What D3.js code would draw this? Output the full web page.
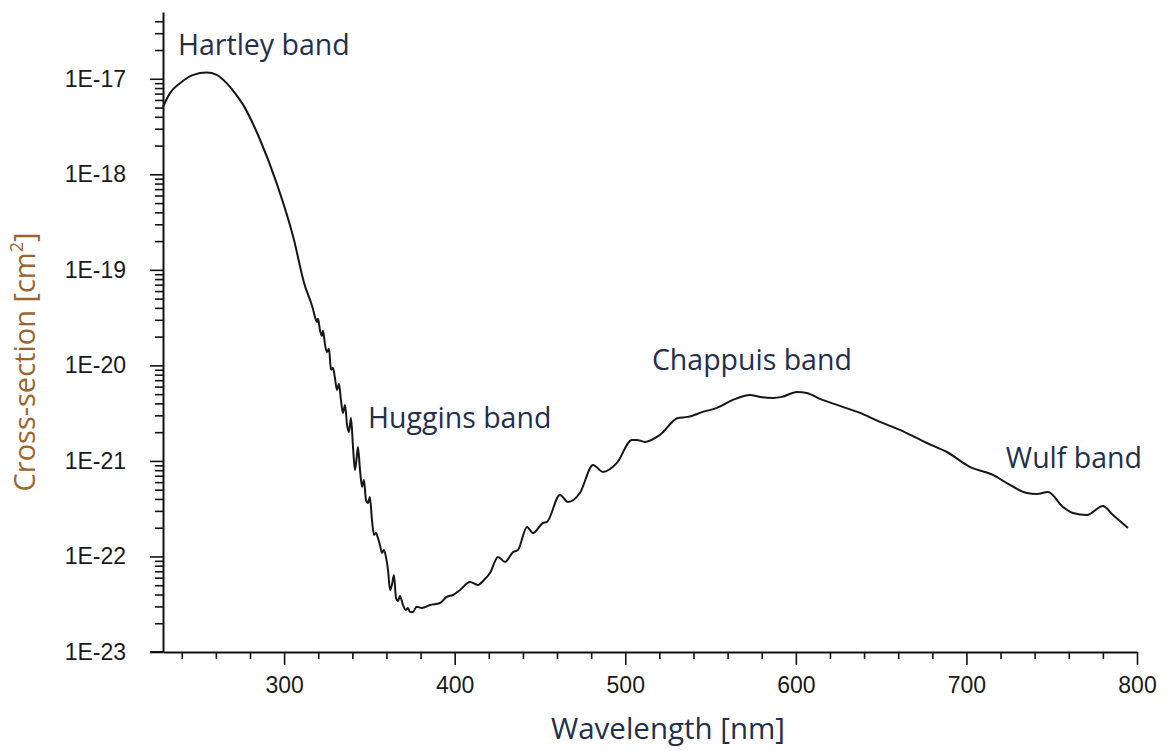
<!DOCTYPE html>
<html>
<head>
<meta charset="utf-8">
<script src="https://cdn.jsdelivr.net/npm/d3@7"></script>
<style>
  html, body { margin: 0; padding: 0; background: #fff; }
  svg { display: block; }
</style>
</head>
<body>
<svg id="chart" width="1169" height="751"></svg>
<script>
// Ozone absorption cross-section spectrum, wavelength in nm, cross-section in cm^2
const wavelength = [
  229.0, 233.1, 239.0, 246.8, 254.6, 260.5, 266.3, 271.2, 276.1, 285.9, 295.6, 305.4,
  312.2, 315.2, 316.9, 318.1, 319.3, 319.9, 321.0, 322.2, 322.8, 324.0, 325.1, 326.3,
  327.5, 328.6, 329.8, 331.0, 332.2, 333.3, 334.5, 335.7, 336.9, 338.0, 339.2, 340.4,
  341.5, 342.4, 343.3, 344.5, 345.7, 346.8, 348.0, 349.2, 350.3, 351.5, 352.7, 353.9,
  355.0, 356.2, 357.4, 358.5, 359.7, 360.9, 362.1, 363.2, 364.4, 365.6, 366.8, 367.9,
  369.7, 371.4, 372.6, 373.8, 375.5,
  377.7, 380.8, 385.5, 391.4, 395.3, 399.0, 403.1, 409.0, 413.6, 417.2, 420.7, 425.4,
  429.5, 434.2, 437.1, 442.4, 445.9, 451.7, 454.1, 461.7, 466.4, 473.4, 481.1, 486.9,
  495.1, 503.9, 506.8, 511.5, 520.3, 530.9, 536.7, 545.5, 553.7, 563.1, 573.1, 579.0,
  586.6, 591.8, 600.6, 606.5, 614.1, 625.8, 637.6, 649.3, 661.0, 676.8, 688.6, 702.0,
  715.5, 723.7, 735.5, 741.3, 747.8, 756.6, 762.4, 770.6, 780.0, 785.9, 794.7
];
const crossSection = [
  5.09e-18, 7.08e-18, 9.0e-18, 1.10e-17, 1.165e-17, 1.10e-17, 9.0e-18, 7.08e-18, 5.3e-18, 2.3e-18, 8.1e-19, 2.2e-19,
  6.80e-20, 4.85e-20, 3.91e-20, 3.22e-20, 2.85e-20, 3.07e-20, 2.35e-20, 2.04e-20, 2.30e-20, 1.64e-20, 1.38e-20, 1.49e-20,
  8.98e-21, 9.42e-21, 7.40e-21, 5.54e-21, 6.40e-21, 4.35e-21, 3.18e-21, 3.86e-21, 2.38e-21, 2.01e-21, 2.82e-21, 1.40e-21,
  8.05e-22, 1.02e-21, 1.40e-21, 8.05e-22, 5.35e-22, 6.32e-22, 3.91e-22, 3.63e-22, 4.20e-22, 2.41e-22, 1.68e-22, 1.76e-22,
  1.56e-22, 1.32e-22, 1.09e-22, 1.17e-22, 9.89e-23, 7.23e-23, 4.46e-23, 5.03e-23, 6.40e-23, 3.68e-23, 3.42e-23, 3.86e-23,
  3.10e-23, 2.75e-23, 2.89e-23, 2.62e-23, 2.62e-23,
  2.98e-23, 2.89e-23, 3.10e-23, 3.26e-23, 3.77e-23, 3.95e-23, 4.46e-23, 5.41e-23, 5.03e-23, 5.68e-23, 6.72e-23, 9.89e-23,
  8.76e-23, 1.11e-22, 1.17e-22, 2.04e-22, 1.76e-22, 2.24e-22, 2.30e-22, 4.41e-22, 3.72e-22, 4.62e-22, 9.08e-22, 7.67e-22,
  9.53e-22, 1.66e-21, 1.66e-21, 1.58e-21, 1.87e-21, 2.82e-21, 2.89e-21, 3.26e-21, 3.59e-21, 4.35e-21, 4.91e-21, 4.68e-21,
  4.57e-21, 4.68e-21, 5.28e-21, 5.15e-21, 4.46e-21, 3.77e-21, 3.18e-21, 2.56e-21, 2.11e-21, 1.54e-21, 1.24e-21, 8.65e-22,
  7.13e-22, 5.87e-22, 4.62e-22, 4.51e-22, 4.73e-22, 3.30e-22, 2.85e-22, 2.72e-22, 3.37e-22, 2.72e-22, 1.99e-22
];

// Axis ticks
const xTickValues = [300, 400, 500, 600, 700, 800];
const xTickLabels = ["300", "400", "500", "600", "700", "800"];
const xMinorTicks = [240, 260, 280, 320, 340, 360, 380, 420, 440, 460, 480, 520, 540, 560, 580,
                     620, 640, 660, 680, 720, 740, 760, 780];
const yTickValues = [1e-23, 1e-22, 1e-21, 1e-20, 1e-19, 1e-18, 1e-17];
const yTickLabels = ["1E-23", "1E-22", "1E-21", "1E-20", "1E-19", "1E-18", "1E-17"];

// Band annotations: name, wavelength and cross-section at the label baseline start
const bandNames = ["Hartley band", "Huggins band", "Chappuis band", "Wulf band"];
const bandWavelengths = [237.8, 349.2, 515.6, 723.1];
const bandValues = [1.78e-17, 2.22e-21, 8.98e-21, 8.45e-22];

const xDomain = [229, 800];
const yDomain = [1e-23, 5e-17];

const svg = d3.select("#chart");
const margin = { left: 163, right: 32, top: 12, bottom: 99 };
const W = 1169, H = 751;

const x = d3.scaleLinear().domain(xDomain).range([margin.left, W - margin.right]);
const y = d3.scaleLog().domain(yDomain).range([H - margin.bottom, margin.top]);

const tickFont = "'Liberation Sans', Arial, Helvetica, sans-serif";
const labelFont = "'Open Sans', 'Noto Sans', sans-serif";

// Minor y ticks: 2..9 times each decade
const yMinorTicks = [];
for (let e = -23; e <= -17; e++) {
  for (let m = 2; m <= 9; m++) {
    const v = m * Math.pow(10, e);
    if (v <= yDomain[1]) yMinorTicks.push(v);
  }
}

// Y axis
const yAxisG = svg.append("g").attr("transform", `translate(${margin.left},0)`);
yAxisG.call(d3.axisLeft(y).tickValues(yMinorTicks).tickSize(8).tickFormat(""));
yAxisG.call(g => g.selectAll(".domain").remove());
const yMajorG = svg.append("g").attr("transform", `translate(${margin.left},0)`);
yMajorG.call(d3.axisLeft(y).tickValues(yTickValues).tickSize(13).tickSizeOuter(0).tickPadding(24)
  .tickFormat((d, i) => yTickLabels[i]));

// X axis
const xAxisG = svg.append("g").attr("transform", `translate(0,${H - margin.bottom})`);
xAxisG.call(d3.axisBottom(x).tickValues(xMinorTicks).tickSize(7).tickFormat(""));
xAxisG.call(g => g.selectAll(".domain").remove());
const xMajorG = svg.append("g").attr("transform", `translate(0,${H - margin.bottom})`);
xMajorG.call(d3.axisBottom(x).tickValues(xTickValues).tickSize(13).tickSizeOuter(0).tickPadding(12)
  .tickFormat((d, i) => xTickLabels[i]));

// Extend x axis line slightly left to meet the 1E-23 tick
svg.append("line")
  .attr("x1", margin.left - 13).attr("x2", margin.left)
  .attr("y1", H - margin.bottom).attr("y2", H - margin.bottom)
  .attr("stroke", "#111").attr("stroke-width", 2);

svg.selectAll(".domain").attr("stroke", "#111").attr("stroke-width", 2);
svg.selectAll(".tick line").attr("stroke", "#111").attr("stroke-width", 1.6);
svg.selectAll(".tick text")
  .attr("font-family", tickFont)
  .attr("font-size", 23)
  .attr("fill", "#1a1a1a");

// Spectrum line
const points = wavelength.map((w, i) => [w, crossSection[i]]);
const line = d3.line()
  .x(d => x(d[0]))
  .y(d => y(d[1]))
  .curve(d3.curveMonotoneX);

svg.append("path")
  .datum(points)
  .attr("fill", "none")
  .attr("stroke", "#161616")
  .attr("stroke-width", 2)
  .attr("stroke-linejoin", "round")
  .attr("d", line);

// Band labels
svg.append("g").selectAll("text")
  .data(bandNames)
  .join("text")
  .attr("x", (d, i) => x(bandWavelengths[i]))
  .attr("y", (d, i) => y(bandValues[i]))
  .attr("font-family", labelFont)
  .attr("font-size", 28.5)
  .attr("fill", "#22304e")
  .text(d => d);

// Axis titles
svg.append("text")
  .attr("x", 668)
  .attr("y", 739)
  .attr("text-anchor", "middle")
  .attr("font-family", labelFont)
  .attr("font-size", 29.5)
  .attr("fill", "#22304e")
  .text("Wavelength [nm]");

const yTitle = svg.append("text")
  .attr("transform", "translate(35,362) rotate(-90)")
  .attr("text-anchor", "middle")
  .attr("font-family", labelFont)
  .attr("font-size", 29)
  .attr("fill", "#9a6530");
yTitle.append("tspan").text("Cross-section [cm");
yTitle.append("tspan").attr("font-size", 18).attr("dy", -12).text("2");
yTitle.append("tspan").attr("dy", 12).text("]");
</script>
</body>
</html>
